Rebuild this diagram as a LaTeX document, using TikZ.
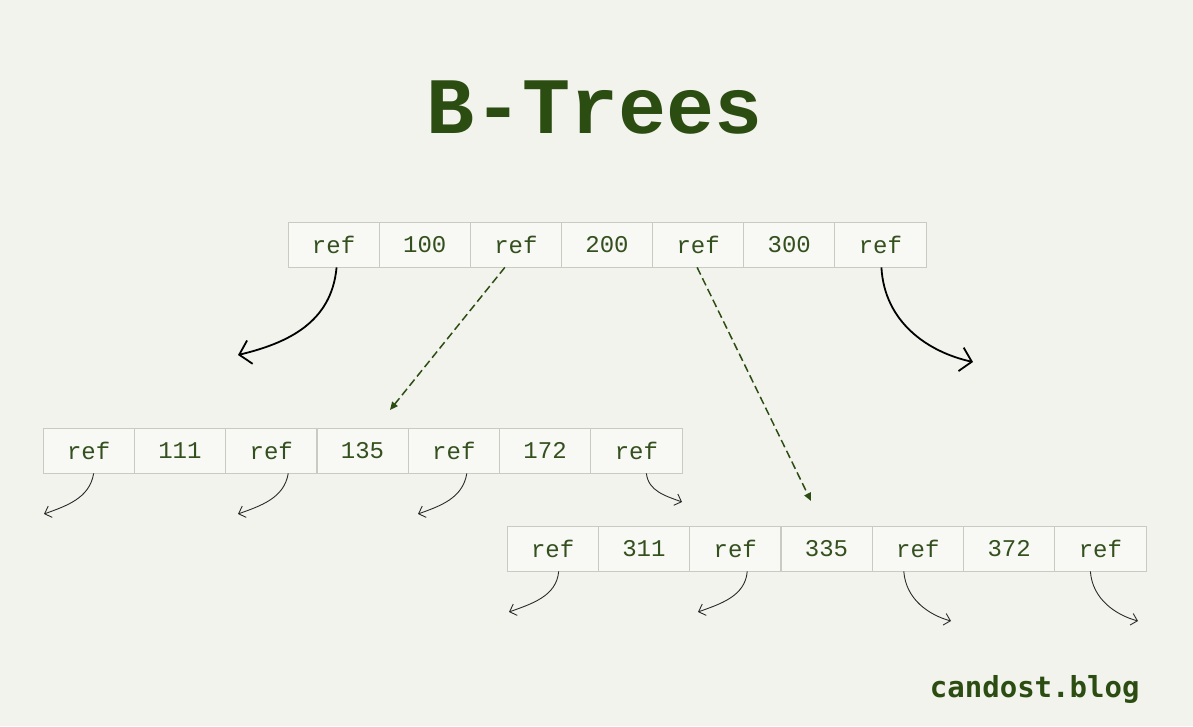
\documentclass[tikz,border=0pt]{standalone}
\usepackage{fontspec}
\usetikzlibrary{arrows.meta}
\newfontfamily\titlefont{Liberation Mono}
\newfontfamily\cellfont{Liberation Mono}
\newfontfamily\blogfont{DejaVu Sans Mono}
\definecolor{bg}{HTML}{F3F3EE}
\definecolor{cellborder}{HTML}{C9CBC2}
\definecolor{darkgreen}{HTML}{2C4D12}
\definecolor{celltext}{HTML}{34501E}
\definecolor{arrowgrey}{HTML}{2A2A2A}
\tikzset{
  cell/.style={draw=cellborder, line width=0.8pt, fill=bg!60!white, minimum width=91.2pt, minimum height=45pt, inner sep=0pt, text=celltext, font=\cellfont\fontsize{24}{24}\selectfont},
  bigarrow/.style={line width=1.8pt, draw=black, -{Straight Barb[length=11pt,width=24pt,line width=1.8pt]}},
  smallarrow/.style={line width=0.9pt, draw=arrowgrey, -{Straight Barb[length=6pt,width=12pt,line width=0.9pt]}},
  dasharrow/.style={line width=1.5pt, draw=darkgreen, dash pattern=on 8pt off 4pt, -{Triangle[length=8pt,width=7pt]}}
}
\begin{document}
\begin{tikzpicture}[x=1pt,y=-1pt]
\fill[bg] (0,0) rectangle (1193,726);
\useasboundingbox (0,0) rectangle (1193,726);
\node[text=darkgreen, font=\titlefont\bfseries\fontsize{80}{80}\selectfont] (title) at (595,108) {B-Trees};
\node[text=darkgreen, font=\blogfont\bfseries\fontsize{29}{29}\selectfont, anchor=base east] (blog) at (1143,697) {candost.blog};
% top row
\foreach \t [count=\i] in {ref,100,ref,200,ref,300,ref}
  \node[cell] (t\i) at ({288+91.14*(\i-0.5)},244.5) {\t};
% middle row
\foreach \t [count=\i] in {ref,111,ref,135,ref,172,ref}
  \node[cell] (m\i) at ({43+91.29*(\i-0.5)},450.5) {\t};
% bottom row
\foreach \t [count=\i] in {ref,311,ref,335,ref,372,ref}
  \node[cell] (b\i) at ({507+91.29*(\i-0.5)},548.5) {\t};
% free ends
\coordinate (e1) at (238,355);
\coordinate (e7) at (973,362);
\coordinate (d3) at (390,410);
\coordinate (d5) at (811,501);
\coordinate (em1) at (44,514);
\coordinate (em3) at (238,514);
\coordinate (em5) at (418,514);
\coordinate (em7) at (682,502);
\coordinate (eb1) at (509,612);
\coordinate (eb3) at (698,612);
\coordinate (eb5) at (951,621);
\coordinate (eb7) at (1138,621);
% top arrows
\draw[bigarrow] ([xshift=3pt]t1.south) .. controls +(-5,55) and +(50,-12) .. (e1);
\draw[bigarrow] ([xshift=1pt]t7.south) .. controls +(3,55) and +(-45,-10) .. (e7);
\draw[dasharrow] ([xshift=-11pt]t3.south) -- (d3);
\draw[dasharrow] ([xshift=-1pt]t5.south) -- (d5);
% middle arrows
\draw[smallarrow] ([xshift=5pt]m1.south) .. controls +(-4,25) and +(22,-8) .. (em1);
\draw[smallarrow] ([xshift=17pt]m3.south) .. controls +(-4,25) and +(22,-8) .. (em3);
\draw[smallarrow] ([xshift=13pt]m5.south) .. controls +(-4,25) and +(22,-8) .. (em5);
\draw[smallarrow] ([xshift=10pt]m7.south) .. controls +(2,18) and +(-16,-6) .. (em7);
% bottom arrows
\draw[smallarrow] ([xshift=6pt]b1.south) .. controls +(-2,25) and +(22,-8) .. (eb1);
\draw[smallarrow] ([xshift=12pt]b3.south) .. controls +(-2,25) and +(22,-8) .. (eb3);
\draw[smallarrow] ([xshift=-14pt]b5.south) .. controls +(2,28) and +(-22,-6) .. (eb5);
\draw[smallarrow] ([xshift=-10pt]b7.south) .. controls +(2,28) and +(-22,-6) .. (eb7);
\end{tikzpicture}
\end{document}
